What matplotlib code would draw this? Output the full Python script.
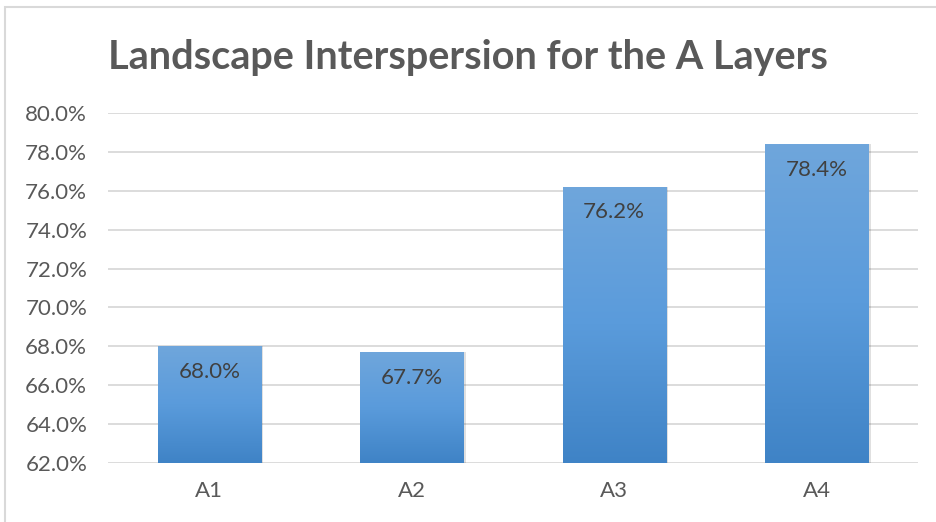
import matplotlib
matplotlib.use("Agg")
import matplotlib.pyplot as plt
import numpy as np
from matplotlib.colors import LinearSegmentedColormap
from matplotlib.patches import Rectangle
from matplotlib.ticker import FuncFormatter, MultipleLocator

categories = ["A1", "A2", "A3", "A4"]
values = [68.0, 67.7, 76.2, 78.4]
y_min, y_max = 62.0, 80.0

plt.rcParams["font.family"] = ["Lato", "DejaVu Sans"]

fig = plt.figure(figsize=(9.36, 5.22), dpi=100)
fig.patches.append(Rectangle((5 / 936, -0.1), 1.2, (522 - 7) / 522 + 0.1,
                             transform=fig.transFigure, fill=False,
                             edgecolor="#d9d9d9", linewidth=1.5))
ax = fig.add_axes([108 / 936, 1 - 463 / 522, 810 / 936, 350 / 522])

grad = LinearSegmentedColormap.from_list("bar", ["#3f83c6", "#5a9bdb", "#6fa6dc"])
x = np.arange(len(categories))
bars = ax.bar(x, [v - y_min for v in values], bottom=y_min, width=0.51,
              color="none", edgecolor="none", zorder=3)
for b, v in zip(bars, values):
    x0, w = b.get_x(), b.get_width()
    # soft shadow
    ax.add_patch(Rectangle((x0 + 0.012, y_min), w, v - y_min, facecolor="#000000",
                           alpha=0.12, edgecolor="none", zorder=2))
    img = ax.imshow(np.linspace(0, 1, 256).reshape(-1, 1), cmap=grad, aspect="auto",
                    extent=(x0, x0 + w, y_min, v), origin="lower", zorder=3)
    img.set_clip_path(b)
    ax.text(x0 + w / 2, v - 0.8, f"{v:.1f}%", ha="center", va="top",
            fontsize=16, color="#404040", zorder=4)

ax.set_xlim(-0.5, len(categories) - 0.5)
ax.set_ylim(y_min, y_max)
ax.yaxis.set_major_locator(MultipleLocator(2))
ax.yaxis.set_major_formatter(FuncFormatter(lambda v, _: f"{v:.1f}%"))
ax.set_xticks(x)
ax.set_xticklabels(categories)
ax.tick_params(length=0, labelsize=16, labelcolor="#595959")
ax.tick_params(axis="x", pad=13)
ax.tick_params(axis="y", pad=15)
ax.grid(axis="y", color="#d9d9d9", linewidth=1.3, zorder=0)
for s in ax.spines.values():
    s.set_visible(False)

fig.text(0.5, 1 - 58 / 522, "Landscape Interspersion for the A Layers",
         ha="center", va="center", fontsize=28.5, fontweight="bold", color="#595959")

fig.savefig("out.png", dpi=100)
